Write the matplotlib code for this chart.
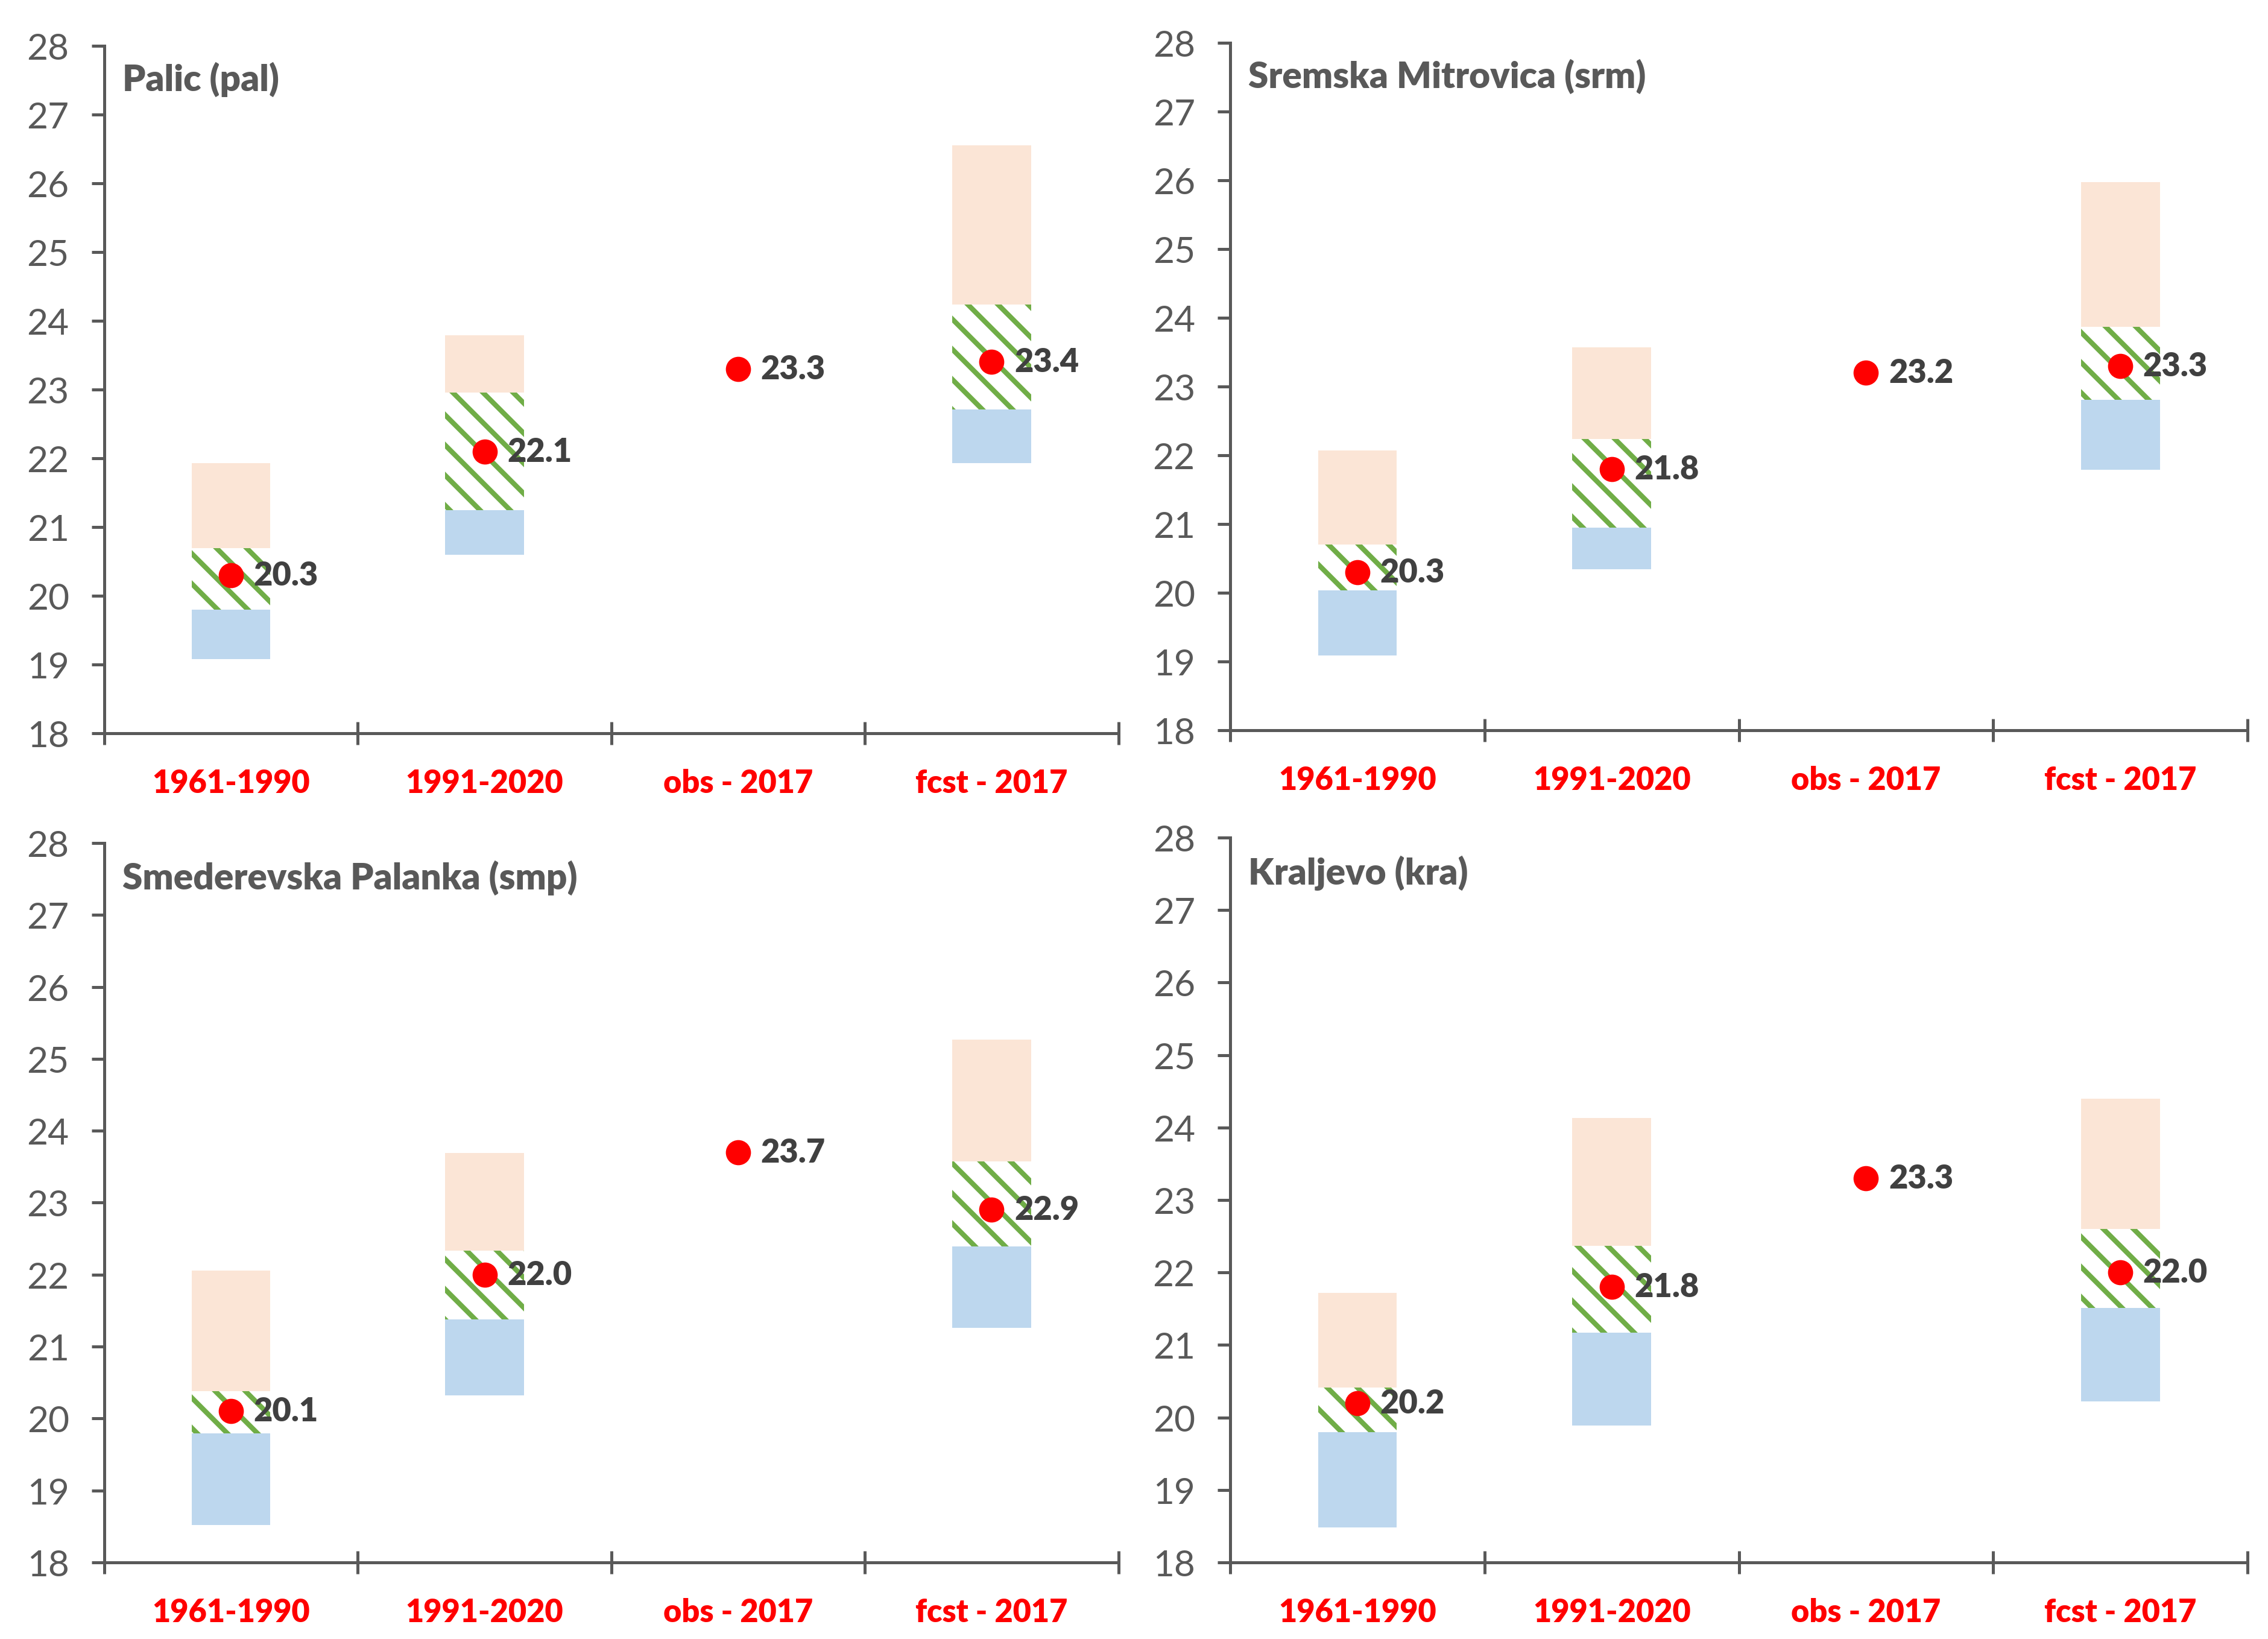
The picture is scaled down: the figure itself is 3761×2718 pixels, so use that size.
import numpy as np
import matplotlib.pyplot as plt

plt.rcParams['font.family'] = ['Lato', 'DejaVu Sans']
plt.rcParams['hatch.linewidth'] = 2.0

categories = ['1961-1990', '1991-2020', 'obs - 2017', 'fcst - 2017']
stations = ['Palic (pal)', 'Sremska Mitrovica (srm)', 'Smederevska Palanka (smp)', 'Kraljevo (kra)']
nan = np.nan

# bottom of blue box
low = [[19.08, 20.60, nan, 21.93],
       [19.09, 20.34, nan, 21.79],
       [18.52, 20.32, nan, 21.26],
       [18.48, 19.89, nan, 20.22]]
# top of blue / bottom of hatched box
q_low = [[19.80, 21.25, nan, 22.71],
         [20.03, 20.95, nan, 22.81],
         [19.79, 21.38, nan, 22.39],
         [19.80, 21.17, nan, 21.51]]
# top of hatched / bottom of peach box
q_high = [[20.69, 22.96, nan, 24.24],
          [20.70, 22.24, nan, 23.87],
          [20.38, 22.33, nan, 23.57],
          [20.41, 22.37, nan, 22.60]]
# top of peach box
high = [[21.93, 23.79, nan, 26.55],
        [22.07, 23.57, nan, 25.97],
        [22.06, 23.69, nan, 25.27],
        [21.72, 24.13, nan, 24.40]]
means = [[20.3, 22.1, 23.3, 23.4],
         [20.3, 21.8, 23.2, 23.3],
         [20.1, 22.0, 23.7, 22.9],
         [20.2, 21.8, 23.3, 22.0]]

peach = '#FBE5D6'
blue = '#BDD7EE'
green = '#70AD47'
gray = '#595959'

fig = plt.figure(figsize=(12.54, 9.0633), dpi=300)
boxes = [[0.046, 0.5524, 0.447, 0.4193],
         [0.5423, 0.5543, 0.4484, 0.4192],
         [0.046, 0.0467, 0.447, 0.4388],
         [0.5423, 0.0467, 0.4484, 0.4421]]

x = np.arange(len(categories)) + 0.5
w = 0.31

for i in range(4):
    ax = fig.add_axes(boxes[i])
    lo = np.array(low[i]); ql = np.array(q_low[i])
    qh = np.array(q_high[i]); hi = np.array(high[i])
    ax.bar(x, hi - qh, w, bottom=qh, color=peach, linewidth=0)
    ax.bar(x, ql - lo, w, bottom=lo, color=blue, linewidth=0)
    ax.bar(x, qh - ql, w, bottom=ql, facecolor='white', edgecolor=green,
           hatch='\\\\', linewidth=0)
    ax.plot(x, means[i], 'o', color='#FF0000', markersize=9, zorder=5)
    for xi, m in zip(x, means[i]):
        ax.annotate(f'{m:.1f}', (xi, m), xytext=(9, 0), textcoords='offset points',
                    ha='left', va='center', fontsize=13, fontweight='heavy',
                    color='#404040', zorder=6)

    ax.set_xlim(0, 4)
    ax.set_ylim(18, 28)
    ax.set_yticks(range(18, 29))
    ax.set_xticks(range(5))
    ax.set_xticklabels([])
    ax.set_xticks(x, minor=True)
    ax.set_xticklabels(categories, minor=True, color='#FF0000',
                       fontweight='heavy', fontsize=12.5)
    ax.tick_params(axis='x', which='minor', length=0, pad=14)
    ax.tick_params(axis='x', which='major', direction='inout', length=9,
                   width=1.2, color=gray)
    ax.tick_params(axis='y', direction='out', length=5, width=1.2, color=gray,
                   labelcolor=gray, labelsize=14.5, pad=9)
    for s in ['top', 'right']:
        ax.spines[s].set_visible(False)
    for s in ['left', 'bottom']:
        ax.spines[s].set_color(gray)
        ax.spines[s].set_linewidth(1.2)
    ax.text(0.018, 0.952, stations[i], transform=ax.transAxes, ha='left',
            va='center', fontsize=14.5, fontweight='heavy', color=gray)

fig.savefig('out.png', dpi=300)
